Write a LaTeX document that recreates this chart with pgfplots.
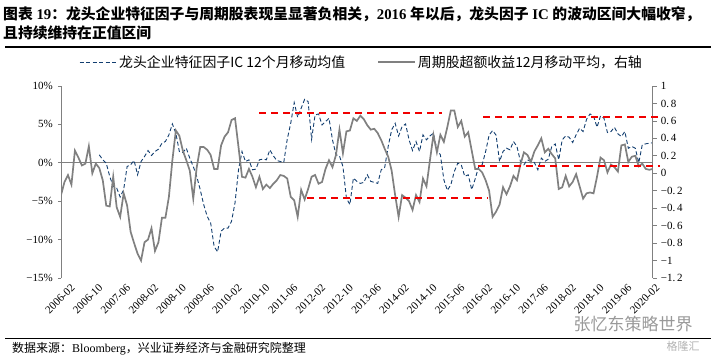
\documentclass[border=0pt]{standalone}
\usepackage{fontspec}
\setmainfont{Liberation Serif}
\newfontfamily\cjk{Noto Sans CJK SC}
\usepackage{pgfplots}
\pgfplotsset{compat=1.18}
\usepackage{pgfplotstable}
\definecolor{blueline}{RGB}{18,62,112}
\definecolor{grayline}{RGB}{128,128,128}
\definecolor{axgray}{RGB}{128,128,128}
\definecolor{redline}{RGB}{240,0,0}

\pgfplotstableread{
x y
0 -0.25
1 -0.10
2 -0.02
3 -0.13
4 0.26
5 0.18
6 0.09
7 0.11
8 0.31
9 0.00
10 0.11
11 0.06
12 -0.08
13 -0.37
14 -0.38
15 -0.04
16 -0.39
17 -0.50
18 -0.23
19 -0.37
20 -0.67
21 -0.80
22 -0.92
23 -1.00
24 -0.79
25 -0.76
26 -0.63
27 -0.89
28 -0.79
29 -0.51
30 -0.51
31 -0.27
32 0.15
33 0.49
34 0.43
35 0.26
36 0.15
37 0.03
38 -0.29
39 0.07
40 0.30
41 0.30
42 0.27
43 0.21
44 0.05
45 0.05
46 0.32
47 0.42
48 0.47
49 0.61
50 0.63
51 0.30
52 -0.04
53 -0.05
54 0.05
55 -0.04
56 -0.16
57 -0.04
58 -0.18
59 -0.13
60 -0.17
61 -0.12
62 -0.08
63 -0.02
64 -0.03
65 -0.06
66 -0.27
67 -0.31
68 -0.50
69 -0.19
70 -0.30
71 -0.18
72 -0.04
73 -0.02
74 -0.12
75 -0.10
76 0.05
77 0.15
78 0.07
79 0.21
80 0.50
81 0.23
82 0.48
83 0.49
84 0.63
85 0.60
86 0.66
87 0.62
88 0.55
89 0.50
90 0.51
91 0.46
92 0.38
93 0.28
94 0.19
95 0.03
96 -0.25
97 -0.50
98 -0.25
99 -0.28
100 -0.32
101 -0.42
102 -0.25
103 -0.33
104 -0.06
105 -0.15
106 0.15
107 0.44
108 0.24
109 0.44
110 0.36
111 0.53
112 0.72
113 0.72
114 0.53
115 0.60
116 0.42
117 0.47
118 0.26
119 0.05
120 0.05
121 0.01
122 -0.08
123 -0.20
124 -0.50
125 -0.44
126 -0.36
127 -0.16
128 -0.24
129 -0.15
130 -0.03
131 -0.08
132 0.10
133 0.24
134 0.21
135 0.13
136 0.25
137 0.32
138 0.40
139 0.24
140 0.28
141 0.22
142 0.17
143 -0.18
144 -0.16
145 -0.03
146 -0.15
147 -0.10
148 -0.01
149 -0.15
150 -0.29
151 -0.23
152 -0.22
153 -0.23
154 -0.04
155 0.18
156 0.15
157 0.01
158 0.10
159 0.07
160 0.02
161 0.32
162 0.33
163 0.13
164 0.19
165 0.20
166 0.08
167 0.11
168 0.05
169 0.04
170 0.05
}\grayt

\pgfplotstableread{
x y
11 1.04
12 0.39
13 -0.04
14 -1.77
15 -3.07
16 -3.29
17 -4.46
18 -3.50
19 -0.48
20 -0.26
21 0.30
22 -1.56
23 0.17
24 0.82
25 1.60
26 0.95
27 1.47
28 1.77
29 2.55
30 2.77
31 3.64
32 5.06
33 3.85
34 1.47
35 1.34
36 1.90
37 0.60
38 -0.48
39 -1.77
40 -3.50
41 -5.45
42 -6.97
43 -7.84
44 -10.9
45 -11.6
46 -8.9
47 -8.5
48 -8.5
49 -7.6
50 -5.2
51 -0.91
52 1.47
53 0.17
54 0.39
55 -0.91
56 -0.82
57 0.39
58 0.48
59 0.39
60 1.69
61 0.91
62 0.30
63 0.17
64 0.04
65 3.07
66 5.15
67 7.84
68 5.93
69 7.10
70 8.27
71 7.97
72 3.07
73 6.23
74 6.36
75 4.93
76 5.37
77 5.80
78 2.99
79 1.04
80 0.90
81 -0.48
82 -4.59
83 -5.45
84 -1.99
85 -2.42
86 -2.68
87 -2.55
88 -1.56
89 -2.42
90 -2.55
91 -2.68
92 -0.91
93 -0.60
94 2.12
95 4.29
96 5.15
97 3.50
98 4.72
99 5.06
100 2.99
101 1.60
102 2.77
103 1.47
104 3.64
105 2.99
106 3.50
107 3.85
108 1.69
109 1.04
110 -2.21
111 -3.59
112 -2.86
113 -1.13
114 -0.04
115 -0.26
116 -1.77
117 -1.56
118 -3.50
119 -2.10
120 -0.48
121 -0.26
122 1.47
123 3.60
124 4.20
125 3.60
126 0.17
127 1.47
128 1.90
129 1.69
130 2.77
131 2.12
132 0.17
133 -0.26
134 0.39
135 0.17
136 0.04
137 -0.91
138 0.60
139 0.17
140 0.48
141 2.12
142 2.45
143 0.39
144 2.99
145 3.50
146 3.33
147 2.64
148 3.64
149 4.50
150 4.07
151 5.67
152 6.36
153 6.10
154 4.63
155 6.10
156 5.80
157 3.94
158 4.07
159 4.63
160 3.77
161 3.42
162 4.07
163 1.90
164 2.12
165 1.90
166 0.00
167 2.34
168 2.47
169 2.55
170 2.60
}\bluet

\pgfplotstableread{
x y
56.9 6.5
109.5 6.5
}\redA
\pgfplotstableread{
x y
70.7 -4.6
122.7 -4.6
}\redB
\pgfplotstableread{
x y
121.3 5.95
172.1 5.95
}\redC
\pgfplotstableread{
x y
119.8 -0.4
172.1 -0.4
}\redD

\begin{document}
\begin{tikzpicture}[x=1pt,y=1pt]
\path[use as bounding box] (0,0) rectangle (711,359);
% title
\node[anchor=west, inner sep=0pt] at (3,345) {\fontsize{14.8}{18}\selectfont\cjk\bfseries 图表{\rmfamily\bfseries\ 19}：龙头企业特征因子与周期股表现呈显著负相关，{\rmfamily\bfseries 2016 }年以后，龙头因子{\rmfamily\bfseries\ IC }的波动区间大幅收窄，};
\node[anchor=west, inner sep=0pt] at (3,326) {\fontsize{14.8}{18}\selectfont\cjk\bfseries 且持续维持在正值区间};
\draw[line width=1.2pt] (5,312) -- (711,312);
% footer
\draw[line width=1pt] (5,21) -- (711,21);
\node[anchor=west, inner sep=0pt] at (12,10) {\fontsize{12}{14}\selectfont\cjk 数据来源：{\rmfamily Bloomberg}，兴业证券经济与金融研究院整理};
% watermark
\node[anchor=center, inner sep=0pt, text=black!40] at (633,35) {\fontsize{17}{17}\selectfont\cjk 张忆东策略世界};
\node[anchor=center, inner sep=0pt, text=black!30] at (683,13) {\fontsize{11}{11}\selectfont\cjk 格隆汇};

\begin{axis}[
  at={(61pt,81pt)}, anchor=south west, scale only axis,
  width=591.7pt, height=192pt,
  xmin=0, xmax=170, ymin=-15, ymax=10,
  axis lines*=left,
  x axis line style={draw=none},
  y axis line style={axgray, line width=0.8pt},
  xtick={0,8,...,168},
  xticklabels={2006-02,2006-10,2007-06,2008-02,2008-10,2009-06,2010-02,2010-10,2011-06,2012-02,2012-10,2013-06,2014-02,2014-10,2015-06,2016-02,2016-10,2017-06,2018-02,2018-10,2019-06,2020-02},
  x tick style={draw=none},
  xticklabel style={rotate=45, anchor=east, inner sep=0pt, xshift=5pt, yshift=-12pt, font=\fontsize{11}{11}\selectfont},
  ytick={-15,-10,-5,0,5,10},
  yticklabels={−15\%,−10\%,−5\%,0\%,5\%,10\%},
  y tick style={axgray, line width=0.8pt},
  tick align=outside, major tick length=3pt,
  yticklabel style={font=\fontsize{11}{11}\selectfont, inner sep=0pt, xshift=-5pt},
  clip=false,
  legend columns=2,
  legend cell align=left,
  legend image code/.code={\draw[#1] (0pt,0pt) -- (37pt,0pt);},
  legend style={at={(0.508,1.125)}, anchor=center, draw=none, fill=none,
    font=\cjk\fontsize{13.9}{15}\selectfont, inner sep=0pt,
    /tikz/every even column/.append style={column sep=30pt}},
]
\addplot[color=axgray, line width=0.8pt, forget plot] coordinates {(0,0) (170,0)};
\addplot[color=blueline, line width=0.9pt, dash pattern=on 4pt off 2.5pt] table[x=x,y=y]{\bluet};
\addlegendentry{龙头企业特征因子IC 12个月移动均值}
\addlegendimage{color=grayline, line width=1.7pt}
\addlegendentry{周期股超额收益12月移动平均，右轴}
\end{axis}

\begin{axis}[
  at={(61pt,81pt)}, anchor=south west, scale only axis,
  width=591.7pt, height=192pt,
  xmin=0, xmax=170, ymin=-1.2, ymax=1,
  axis y line*=right, axis x line=none,
  y axis line style={axgray, line width=0.8pt},
  ytick={-1.2,-1,-0.8,-0.6,-0.4,-0.2,0,0.2,0.4,0.6,0.8,1},
  yticklabels={−1.\,2,−1,−0.\,8,−0.\,6,−0.\,4,−0.\,2,0,0.\,2,0.\,4,0.\,6,0.\,8,1},
  y tick style={axgray, line width=0.8pt},
  tick align=outside, major tick length=4pt,
  yticklabel style={font=\fontsize{11}{11}\selectfont, inner sep=0pt, xshift=4pt},
]
\addplot[color=grayline, line width=1.7pt] table[x=x,y=y]{\grayt};
\end{axis}

\begin{axis}[
  at={(61pt,81pt)}, anchor=south west, scale only axis,
  width=591.7pt, height=192pt,
  xmin=0, xmax=170, ymin=-15, ymax=10,
  hide axis, clip=false,
]
\addplot[color=redline, line width=1.8pt, dash pattern=on 7pt off 5pt] table[x=x,y=y]{\redA};
\addplot[color=redline, line width=1.8pt, dash pattern=on 7pt off 5pt] table[x=x,y=y]{\redB};
\addplot[color=redline, line width=1.8pt, dash pattern=on 7pt off 5pt] table[x=x,y=y]{\redC};
\addplot[color=redline, line width=1.8pt, dash pattern=on 7pt off 5pt] table[x=x,y=y]{\redD};
\end{axis}
\end{tikzpicture}
\end{document}
